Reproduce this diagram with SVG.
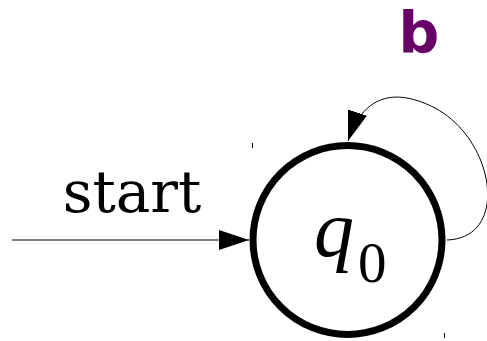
<svg xmlns="http://www.w3.org/2000/svg" width="487" height="341" viewBox="0 0 487 341">
<style>
.edge{fill:none;stroke:#000;stroke-width:1}
.tick{stroke:#000;stroke-width:1}
</style>
<defs>
<marker id="ah" viewBox="0 0 30 20" refX="30" refY="10" markerWidth="30" markerHeight="20" markerUnits="userSpaceOnUse" orient="auto">
<path d="M0,0 L30,10 L0,20 Z" fill="#000"/>
</marker>
</defs>
<rect width="487" height="341" fill="#fff"/>
<g id="connectors">
<path class="edge" d="M12,240 L249,240" stroke="#444" marker-end="url(#ah)"/>
<path class="edge" d="M447,240 C510,238 495,140 435,108 C400,90 365,90 348,141" marker-end="url(#ah)"/>
</g>
<g id="start-label">
<text x="132" y="212" font-family="DejaVu Serif, serif" font-size="58" text-anchor="middle">start</text>
</g>
<g id="loop-label">
<text x="419" y="52" font-family="DejaVu Sans, sans-serif" font-weight="bold" font-size="57" fill="#660066" text-anchor="middle">b</text>
</g>
<g id="q0">
<circle cx="347.5" cy="240" r="94.5" fill="none" stroke="#000" stroke-width="7"/>
<text x="314" y="256" font-family="Liberation Serif, serif" font-style="italic" font-size="80">q</text>
<text x="358" y="282" font-family="Liberation Serif, serif" font-size="57">0</text>
<line class="tick" x1="252.5" y1="143" x2="252.5" y2="148"/>
<line class="tick" x1="444.5" y1="333" x2="444.5" y2="338"/>
</g>
</svg>
